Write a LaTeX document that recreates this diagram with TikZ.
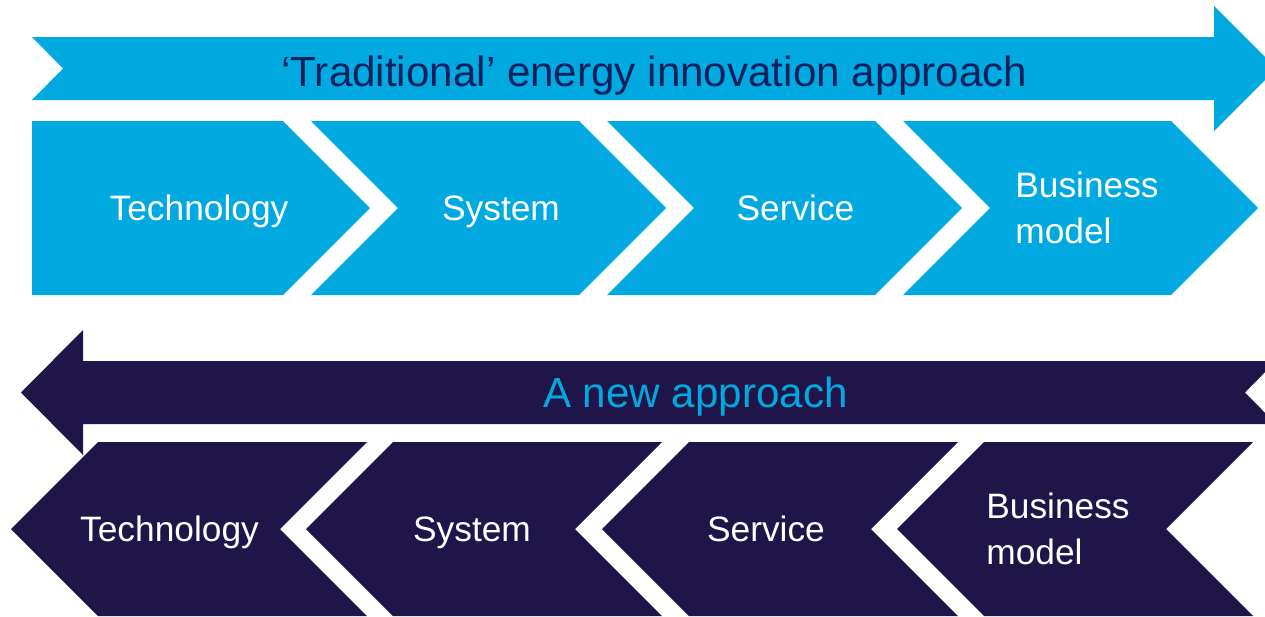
\documentclass[tikz,border=0pt]{standalone}
\usepackage{fontspec}
\setmainfont{Liberation Sans}
\usetikzlibrary{positioning}
\definecolor{innoblue}{RGB}{0,170,224}
\definecolor{innonavy}{RGB}{31,21,72}
\definecolor{titlenavy}{RGB}{12,32,96}

\begin{document}
\begin{tikzpicture}[x=0.02cm,y=-0.02cm,
                    old step/.style={fill=innoblue},
                    new step/.style={fill=innonavy},
                    step label/.style={text=white,inner sep=0pt,anchor=base,
                                       font=\fontsize{20.1pt}{26.2pt}\selectfont},
                    band label/.style={inner sep=0pt,anchor=base,
                                       font=\fontsize{24pt}{29pt}\selectfont}
                   ]
  \clip (0,0) rectangle (1265,616);
  % top band: traditional route
  \fill[old step] (32,37) -- (1214,37) -- (1214,6) -- (1276.5,68.5) -- (1214,131)
                  -- (1214,100) -- (32,100) -- (63,68.5) -- cycle;
  \fill[old step] (32,121) -- (283,121) -- (370,208) -- (283,295) -- (32,295) -- cycle;
  \fill[old step] (311,121) -- (579,121) -- (666,208) -- (579,295) -- (311,295) -- (398,208) -- cycle;
  \fill[old step] (607,121) -- (875,121) -- (962,208) -- (875,295) -- (607,295) -- (694,208) -- cycle;
  \fill[old step] (903,121) -- (1171,121) -- (1258,208) -- (1171,295) -- (903,295) -- (990,208) -- cycle;
  \node[band label,text=titlenavy] (oldtitle) at (654.5,86) {‘Traditional’ energy innovation approach};
  \node[step label] (oldtech) at (199,220) {Technology};
  \node[step label] (oldsys) at (501,220) {System};
  \node[step label] (oldserv) at (795.5,220) {Service};
  \node[step label,anchor=west,align=left] (oldbiz) at (1015,208) {Business\\model};
  % bottom band: the reversed route
  \fill[new step] (1276,361) -- (83,361) -- (83,330) -- (21,392.5) -- (83,455)
                  -- (83,424) -- (1276,424) -- (1245,392.5) -- cycle;
  \fill[new step] (98,442) -- (367,442) -- (280,529) -- (367,616) -- (98,616) -- (11,529) -- cycle;
  \fill[new step] (393,442) -- (662,442) -- (575,529) -- (662,616) -- (393,616) -- (306,529) -- cycle;
  \fill[new step] (689,442) -- (958,442) -- (871,529) -- (958,616) -- (689,616) -- (602,529) -- cycle;
  \fill[new step] (984,442) -- (1253,442) -- (1166,529) -- (1253,616) -- (984,616) -- (897,529) -- cycle;
  \node[band label,text=innoblue] (newtitle) at (695.5,407) {A new approach};
  \node[step label] (newtech) at (169.5,541.5) {Technology};
  \node[step label] (newsys) at (472,541.5) {System};
  \node[step label] (newserv) at (766,541.5) {Service};
  \node[step label,anchor=west,align=left] (newbiz) at (986,529) {Business\\model};
\end{tikzpicture}
\end{document}
